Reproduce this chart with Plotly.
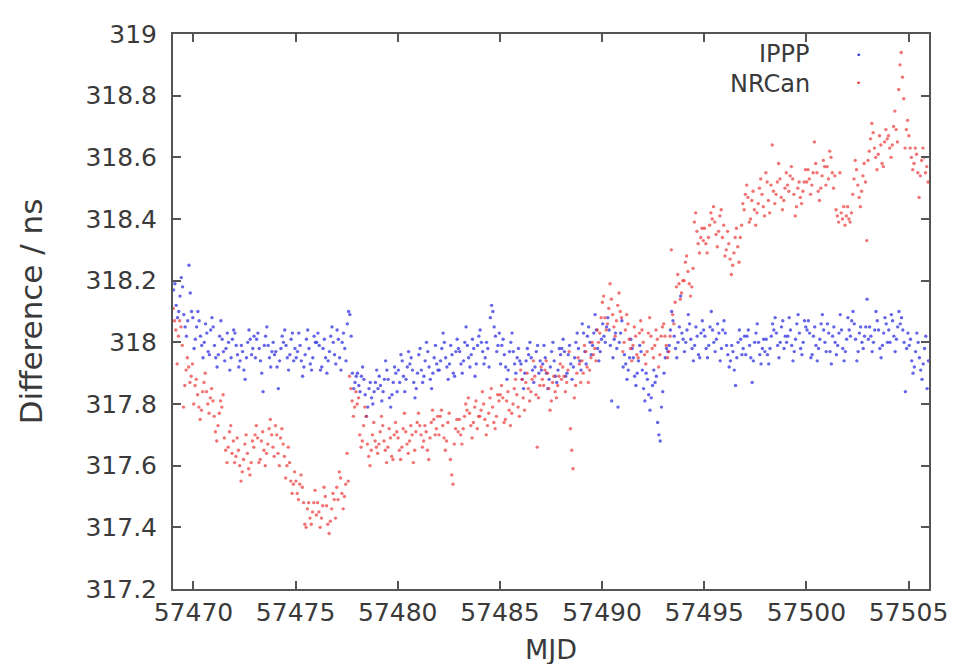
import numpy as np
import plotly.graph_objects as go

# Sampling: 16 points per day starting at MJD 57469
MJD_START = 57469
PER_DAY = 16

# IPPP (blue) values in ns, one row per day
IPPP_A = [
    318.17, 318.19, 318.12, 318.08, 318.10, 318.15, 318.21, 318.18, 318.09, 318.05, 318.02, 318.07, 318.25, 318.16, 318.10, 318.08,
    317.98, 318.01, 318.05, 318.10, 318.07, 318.02, 317.99, 317.95, 318.00, 318.06, 318.03, 317.97, 317.96, 318.04, 318.08, 318.05,
    317.99, 317.95, 317.92, 317.96, 318.02, 318.07, 318.01, 317.97, 317.94, 317.98, 318.03, 318.00, 317.91, 317.95, 318.01, 318.04,
    318.03, 317.99, 317.96, 317.92, 317.94, 317.99, 317.97, 317.91, 317.88, 317.95, 318.00, 318.04, 318.01, 317.96, 317.98, 318.02,
    317.95, 318.01, 318.03, 317.98, 317.94, 317.90, 317.84, 317.99, 318.02, 318.05, 317.99, 317.95, 317.92, 317.97, 318.00, 317.96,
    317.97, 317.92, 317.85, 317.94, 317.98, 318.02, 318.00, 318.04, 317.99, 317.95, 317.91, 317.96, 318.01, 318.03, 317.94, 317.98,
    317.95, 317.97, 318.03, 317.99, 317.94, 317.89, 317.92, 317.96, 318.01, 318.04, 317.98, 317.93, 317.91, 317.95, 318.02, 318.00,
    318.00, 318.03, 317.99, 317.91, 317.92, 317.98, 318.01, 317.95, 317.90, 317.94, 317.97, 318.02, 318.05, 318.00, 317.96, 317.93,
    318.04, 318.01, 317.95, 317.91, 318.00, 318.03, 317.98, 317.94, 318.06, 318.10, 318.09, 318.02, 317.90, 317.85, 317.87, 317.89,
]
IPPP_B = [
    317.90, 317.86, 317.84, 317.89, 317.92, 317.88, 317.83, 317.76, 317.79, 317.85, 317.87, 317.82, 317.80, 317.84, 317.87, 317.91,
    317.85, 317.89, 317.86, 317.81, 317.84, 317.88, 317.94, 317.91, 317.88, 317.82, 317.79, 317.83, 317.87, 317.92, 317.90, 317.84,
    317.91, 317.87, 317.96, 317.94, 317.89, 317.84, 317.88, 317.92, 317.97, 317.93, 317.95, 317.91, 317.87, 317.82, 317.85, 317.90,
    317.96, 317.98, 317.91, 317.87, 317.89, 317.94, 318.00, 317.97, 317.92, 317.88, 317.85, 317.90, 317.95, 317.99, 317.93, 317.91,
    317.91, 317.94, 317.98, 318.03, 318.00, 317.95, 317.92, 317.88, 317.93, 317.99, 317.96, 317.90, 317.89, 317.97, 318.01, 317.98,
    317.97, 317.93, 317.90, 317.94, 318.00, 318.05, 317.99, 317.95, 317.92, 317.96, 318.01, 317.98, 317.89, 317.93, 317.99, 318.02,
    318.04, 318.00, 317.97, 317.93, 317.95, 318.00, 317.98, 317.92, 318.08, 318.12, 318.10, 318.05, 318.02, 317.97, 317.99, 318.03,
    317.93, 317.99, 318.01, 317.96, 317.92, 317.88, 317.91, 317.97, 318.00, 318.03, 317.97, 317.93, 317.90, 317.95, 317.98, 317.94,
    317.93, 317.88, 317.85, 317.90, 317.94, 317.98, 317.96, 318.00, 317.95, 317.91, 317.87, 317.92, 317.97, 317.99, 317.90, 317.94,
]
IPPP_C = [
    317.91, 317.93, 317.99, 317.95, 317.90, 317.85, 317.88, 317.92, 317.97, 318.00, 317.94, 317.89, 317.87, 317.91, 317.98, 317.96,
    317.98, 318.01, 317.97, 317.89, 317.90, 317.96, 317.99, 317.93, 317.88, 317.92, 317.95, 318.00, 318.03, 317.98, 317.94, 317.91,
    318.06, 318.03, 317.97, 317.93, 318.02, 318.05, 318.00, 317.96, 317.99, 318.03, 318.09, 318.04, 317.98, 317.94, 317.97, 318.01,
    318.06, 318.02, 318.00, 318.05, 318.08, 318.04, 317.99, 317.81, 317.95, 318.01, 318.03, 317.98, 317.79, 318.00, 318.03, 318.07,
    317.92, 317.96, 317.93, 317.88, 317.91, 317.95, 318.01, 317.98, 317.95, 317.89, 317.86, 317.90, 317.94, 317.99, 317.97, 317.91,
    317.85, 317.81, 317.90, 317.88, 317.83, 317.78, 317.82, 317.86, 317.91, 317.87, 317.89, 317.74, 317.70, 317.68, 317.79, 317.84,
    317.90, 317.95, 317.98, 317.97, 317.99, 318.04, 318.10, 318.07, 318.02, 317.98, 317.95, 318.00, 318.05, 318.15, 318.03, 318.01,
    317.97, 318.00, 318.04, 318.09, 318.06, 318.01, 317.98, 317.94, 317.99, 318.05, 318.02, 317.96, 317.95, 318.03, 318.07, 318.04,
    318.02, 317.98, 317.95, 317.99, 318.05, 318.10, 318.04, 318.00, 317.97, 318.01, 318.06, 318.03, 317.94, 317.98, 318.04, 318.07,
]
IPPP_D = [
    318.03, 317.99, 317.96, 317.92, 317.94, 317.99, 317.97, 317.91, 317.86, 317.95, 318.00, 318.04, 318.01, 317.96, 317.98, 318.02,
    317.96, 318.02, 318.04, 317.99, 317.95, 317.87, 317.94, 318.00, 318.03, 318.06, 318.00, 317.96, 317.93, 317.98, 318.01, 317.97,
    318.01, 317.96, 317.93, 317.98, 318.02, 318.06, 318.04, 318.08, 318.03, 317.99, 317.95, 318.00, 318.05, 318.07, 317.98, 318.02,
    318.00, 318.02, 318.08, 318.04, 317.99, 317.94, 317.97, 318.01, 318.06, 318.09, 318.03, 317.98, 317.96, 318.00, 318.07, 318.05,
    318.04, 318.07, 318.03, 317.95, 317.96, 318.02, 318.05, 317.99, 317.94, 317.98, 318.01, 318.06, 318.09, 318.04, 318.00, 317.97,
    318.06, 318.03, 317.97, 317.93, 318.02, 318.05, 318.00, 317.96, 317.99, 318.03, 318.09, 318.04, 317.98, 317.94, 317.97, 318.01,
    318.08, 318.04, 318.02, 318.07, 318.10, 318.06, 318.01, 317.94, 317.97, 318.03, 318.05, 318.00, 317.98, 318.02, 318.05, 318.14,
    318.01, 318.05, 318.02, 317.97, 318.00, 318.04, 318.10, 318.07, 318.04, 317.98, 317.95, 317.99, 318.03, 318.08, 318.06, 318.00,
    318.04, 318.00, 318.09, 318.07, 318.02, 317.97, 318.01, 318.05, 318.10, 318.06, 318.08, 318.04, 318.00, 317.84, 317.98, 318.03,
    317.99, 318.01, 317.94, 317.90, 317.92, 317.97, 318.03, 318.00, 317.95, 317.91, 317.88, 317.93, 317.98, 318.02, 317.85, 317.94,
]

# NRCan (red) values in ns, one row per day
NRCAN_A = [
    318.11, 318.07, 318.04, 317.93, 318.02, 318.07, 318.05, 317.99, 317.79, 317.86, 317.91, 317.95, 317.92, 317.87, 317.89, 317.93,
    317.80, 317.86, 317.88, 317.83, 317.79, 317.75, 317.78, 317.84, 317.87, 317.90, 317.84, 317.80, 317.77, 317.82, 317.85, 317.81,
    317.76, 317.71, 317.68, 317.73, 317.77, 317.81, 317.79, 317.83, 317.69, 317.65, 317.61, 317.66, 317.71, 317.73, 317.64, 317.68,
    317.61, 317.63, 317.69, 317.65, 317.60, 317.55, 317.58, 317.62, 317.67, 317.70, 317.64, 317.59, 317.57, 317.61, 317.68, 317.66,
    317.70, 317.73, 317.69, 317.61, 317.62, 317.68, 317.71, 317.65, 317.60, 317.64, 317.67, 317.72, 317.75, 317.70, 317.66, 317.63,
    317.73, 317.70, 317.64, 317.60, 317.69, 317.72, 317.67, 317.63, 317.56, 317.60, 317.66, 317.61, 317.55, 317.51, 317.54, 317.58,
    317.55, 317.51, 317.49, 317.54, 317.57, 317.53, 317.48, 317.41, 317.40, 317.46, 317.48, 317.43, 317.41, 317.45, 317.48, 317.52,
    317.44, 317.48, 317.45, 317.40, 317.43, 317.47, 317.53, 317.50, 317.47, 317.41, 317.38, 317.42, 317.46, 317.51, 317.49, 317.43,
    317.53, 317.49, 317.58, 317.56, 317.51, 317.46, 317.50, 317.54, 317.64, 317.55, 317.89, 317.85, 317.81, 317.76, 317.79, 317.84,
]
NRCAN_B = [
    317.80, 317.82, 317.70, 317.66, 317.68, 317.73, 317.79, 317.76, 317.67, 317.63, 317.60, 317.65, 317.70, 317.74, 317.68, 317.66,
    317.64, 317.67, 317.71, 317.76, 317.73, 317.68, 317.65, 317.61, 317.66, 317.72, 317.69, 317.63, 317.62, 317.70, 317.74, 317.71,
    317.69, 317.65, 317.62, 317.66, 317.72, 317.77, 317.71, 317.67, 317.64, 317.68, 317.73, 317.70, 317.61, 317.65, 317.71, 317.74,
    317.77, 317.73, 317.70, 317.66, 317.68, 317.73, 317.71, 317.65, 317.62, 317.69, 317.74, 317.78, 317.75, 317.70, 317.72, 317.76,
    317.70, 317.76, 317.78, 317.73, 317.69, 317.65, 317.68, 317.74, 317.77, 317.62, 317.57, 317.54, 317.67, 317.72, 317.75, 317.71,
    317.75, 317.70, 317.67, 317.72, 317.76, 317.80, 317.78, 317.82, 317.77, 317.73, 317.69, 317.74, 317.79, 317.81, 317.72, 317.76,
    317.76, 317.78, 317.84, 317.80, 317.75, 317.70, 317.73, 317.77, 317.82, 317.85, 317.79, 317.74, 317.72, 317.76, 317.83, 317.81,
    317.83, 317.86, 317.82, 317.74, 317.75, 317.81, 317.84, 317.78, 317.73, 317.77, 317.80, 317.85, 317.88, 317.83, 317.79, 317.76,
    317.91, 317.88, 317.82, 317.78, 317.87, 317.90, 317.85, 317.81, 317.84, 317.88, 317.94, 317.89, 317.83, 317.66, 317.82, 317.86,
]
NRCAN_C = [
    317.92, 317.88, 317.86, 317.91, 317.94, 317.90, 317.85, 317.78, 317.81, 317.87, 317.89, 317.84, 317.82, 317.86, 317.89, 317.93,
    317.88, 317.92, 317.89, 317.84, 317.87, 317.91, 317.97, 317.72, 317.65, 317.59, 317.82, 317.86, 317.90, 317.95, 317.93, 317.87,
    317.94, 317.90, 317.99, 317.97, 317.92, 317.87, 317.91, 317.95, 318.00, 317.96, 317.98, 317.94, 318.04, 318.00, 318.03, 318.08,
    318.13, 318.15, 318.08, 318.04, 318.06, 318.11, 318.19, 318.14, 318.09, 318.05, 318.02, 318.07, 318.12, 318.16, 318.10, 318.08,
    317.97, 318.00, 318.04, 318.09, 318.06, 318.01, 317.98, 317.94, 317.99, 318.05, 318.02, 317.96, 317.95, 318.03, 318.07, 318.04,
    318.00, 317.96, 317.93, 317.97, 318.03, 318.08, 318.02, 317.98, 317.95, 317.99, 318.04, 318.01, 317.92, 317.96, 318.02, 318.05,
    318.06, 318.02, 317.99, 317.95, 317.97, 318.02, 318.30, 318.09, 318.06, 318.13, 318.18, 318.22, 318.19, 318.14, 318.16, 318.20,
    318.20, 318.26, 318.28, 318.23, 318.19, 318.15, 318.18, 318.24, 318.39, 318.42, 318.36, 318.32, 318.29, 318.34, 318.37, 318.33,
    318.37, 318.32, 318.29, 318.34, 318.38, 318.42, 318.40, 318.44, 318.39, 318.35, 318.31, 318.36, 318.41, 318.43, 318.34, 318.38,
]
NRCAN_D = [
    318.28, 318.30, 318.36, 318.32, 318.27, 318.22, 318.25, 318.29, 318.34, 318.37, 318.31, 318.26, 318.34, 318.38, 318.45, 318.43,
    318.48, 318.51, 318.47, 318.39, 318.40, 318.46, 318.49, 318.43, 318.38, 318.42, 318.45, 318.50, 318.53, 318.48, 318.44, 318.41,
    318.55, 318.52, 318.46, 318.42, 318.51, 318.64, 318.49, 318.45, 318.48, 318.52, 318.58, 318.53, 318.47, 318.43, 318.46, 318.50,
    318.55, 318.51, 318.49, 318.54, 318.57, 318.53, 318.48, 318.41, 318.44, 318.50, 318.52, 318.47, 318.45, 318.49, 318.52, 318.56,
    318.52, 318.56, 318.53, 318.48, 318.51, 318.55, 318.65, 318.58, 318.55, 318.49, 318.46, 318.50, 318.54, 318.59, 318.57, 318.51,
    318.57, 318.53, 318.62, 318.60, 318.55, 318.50, 318.54, 318.43, 318.41, 318.39, 318.55, 318.42, 318.40, 318.44, 318.38, 318.41,
    318.44, 318.40, 318.39, 318.42, 318.48, 318.53, 318.59, 318.56, 318.51, 318.47, 318.44, 318.49, 318.54, 318.58, 318.52, 318.33,
    318.59, 318.62, 318.66, 318.71, 318.68, 318.63, 318.60, 318.56, 318.61, 318.67, 318.64, 318.58, 318.57, 318.65, 318.69, 318.66,
    318.67, 318.63, 318.60, 318.64, 318.70, 318.75, 318.69, 318.65, 318.82, 318.90, 318.94, 318.86, 318.79, 318.63, 318.69, 318.72,
    318.67, 318.63, 318.60, 318.56, 318.58, 318.63, 318.61, 318.55, 318.47, 318.54, 318.59, 318.63, 318.60, 318.55, 318.57, 318.52,
]

X_TICKS = [57470, 57475, 57480, 57485, 57490, 57495, 57500, 57505]
X_TICK_TEXT = ["57470", "57475", "57480", "57485", "57490", "57495", "57500", "57505"]
Y_TICKS = [317.2, 317.4, 317.6, 317.8, 318.0, 318.2, 318.4, 318.6, 318.8, 319.0]
Y_TICK_TEXT = ["317.2", "317.4", "317.6", "317.8", "318", "318.2", "318.4", "318.6", "318.8", "319"]

ippp = IPPP_A + IPPP_B + IPPP_C + IPPP_D
nrcan = NRCAN_A + NRCAN_B + NRCAN_C + NRCAN_D
x_ippp = MJD_START + (np.arange(len(ippp)) + 0.5) / PER_DAY
x_nrcan = MJD_START + (np.arange(len(nrcan)) + 0.25) / PER_DAY

FONT = "DejaVu Sans"
TXT = "#3a3a3a"
BLUE = "rgb(50,50,225)"
RED = "rgb(235,55,55)"

fig = go.Figure()
fig.add_trace(go.Scatter(x=x_ippp, y=ippp, mode="markers", name="IPPP",
                         marker=dict(size=3.4, color=BLUE, opacity=0.75, line=dict(width=0))))
fig.add_trace(go.Scatter(x=x_nrcan, y=nrcan, mode="markers", name="NRCan",
                         marker=dict(size=3.4, color=RED, opacity=0.7, line=dict(width=0))))

axis_common = dict(showline=True, linecolor="#555555", linewidth=2, mirror="ticks",
                   ticks="inside", ticklen=8, tickwidth=1.5, tickcolor="#555555",
                   showgrid=False, zeroline=False, ticklabeloverflow="allow",
                   tickfont=dict(family=FONT, size=25, color=TXT))

fig.update_layout(
    width=952, height=660,
    margin=dict(l=165, r=27, t=12, b=79),
    paper_bgcolor="white", plot_bgcolor="white",
    showlegend=False,
    xaxis=dict(range=[57469, 57506], tickvals=X_TICKS, ticktext=X_TICK_TEXT,
               ticklabelstandoff=0, **axis_common),
    yaxis=dict(range=[317.2, 319.0], tickvals=Y_TICKS, ticktext=Y_TICK_TEXT,
               ticklabelstandoff=9, **axis_common),
    annotations=[
        dict(text="Difference / ns", textangle=-90, x=-0.188, y=0.50, xref="paper", yref="paper",
             xanchor="center", yanchor="middle",
             showarrow=False, font=dict(family=FONT, size=31, color=TXT)),
        dict(text="MJD", x=0.5, y=-0.139, xref="paper", yref="paper",
             xanchor="center", yanchor="bottom", height=30,
             showarrow=False, font=dict(family=FONT, size=27, color=TXT)),
        dict(text="IPPP", x=0.845, y=0.964, xref="paper", yref="paper",
             xanchor="right", yanchor="middle", height=26,
             showarrow=False, font=dict(family=FONT, size=24, color=TXT)),
        dict(text="NRCan", x=0.845, y=0.910, xref="paper", yref="paper",
             xanchor="right", yanchor="middle", height=26,
             showarrow=False, font=dict(family=FONT, size=24, color=TXT)),
        dict(text="•", x=0.907, y=0.963, xref="paper", yref="paper",
             xanchor="center", yanchor="middle",
             showarrow=False, font=dict(family=FONT, size=9, color=BLUE)),
        dict(text="•", x=0.907, y=0.911, xref="paper", yref="paper",
             xanchor="center", yanchor="middle",
             showarrow=False, font=dict(family=FONT, size=9, color=RED)),
    ],
)

fig.write_html("out.html")
